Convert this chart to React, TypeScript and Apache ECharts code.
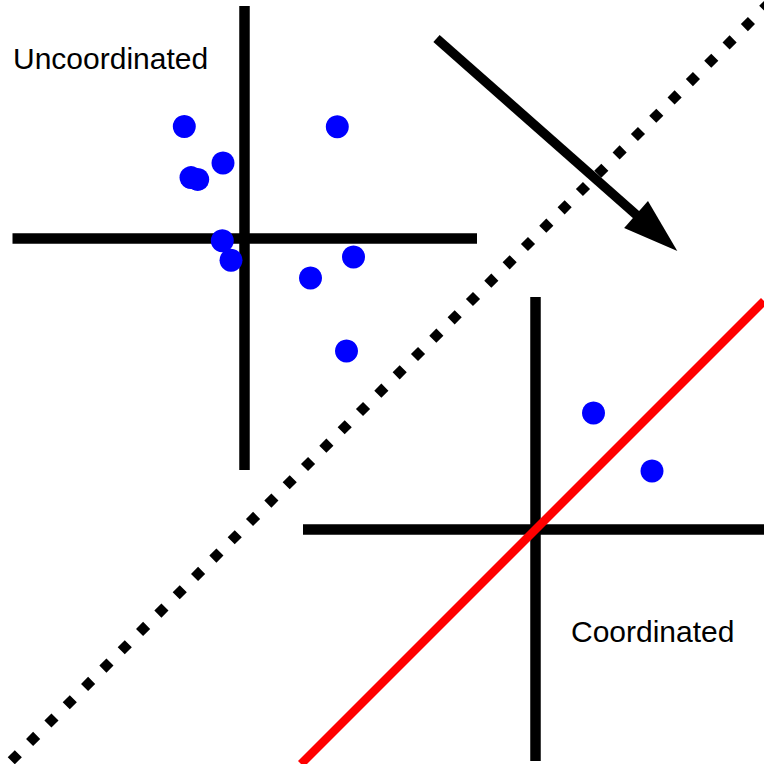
import React, { useEffect, useRef } from "react";
import * as echarts from "echarts";

// Canvas coordinate space (x to the right, y downward), 0..764
const X_RANGE = [0, 764];
const Y_RANGE = [0, 764];

// Blue observations
const dotX = [184.3, 337.3, 223, 191, 197.7, 222.3, 231, 353.5, 310.5, 346.5, 593.5, 652];
const dotY = [126.5, 126.8, 163, 177.6, 179.4, 240.8, 260.2, 257, 278, 351, 413, 471];

// Cross-hair axes: [x1, y1, x2, y2]
const crossSegments = [
  [12.5, 238, 477, 238],
  [244.5, 6, 244.5, 470],
  [303, 529, 764, 529],
  [535.5, 297, 535.5, 761],
];

// Diagonal reference lines
const dottedLine = [
  [0, 772],
  [772, 0],
];
const redLine = [
  [301, 764],
  [764, 301],
];

// Arrow: [startX, startY, tipX, tipY]
const arrowData = [[436.5, 38.5, 677.3, 251]];

// Labels
const labelTexts = ["Uncoordinated", "Coordinated"];

export default function App() {
  const ref = useRef<HTMLDivElement>(null);

  useEffect(() => {
    if (!ref.current) return;
    const chart = echarts.init(ref.current, undefined, { renderer: "svg" });

    const HEAD_LEN = 55;
    const HEAD_HALF = 18;
    const FONT = "'Liberation Sans', Arial, Helvetica, sans-serif";

    const option: any = {
      animation: false,
      grid: { left: 0, right: 0, top: 0, bottom: 0, containLabel: false },
      xAxis: { type: "value", min: X_RANGE[0], max: X_RANGE[1], show: false },
      yAxis: { type: "value", min: Y_RANGE[0], max: Y_RANGE[1], inverse: true, show: false },
      series: [
        {
          type: "lines",
          coordinateSystem: "cartesian2d",
          z: 2,
          symbol: "none",
          lineStyle: { color: "#000", width: 10.5, opacity: 1, curveness: 0, cap: "butt" },
          data: crossSegments.map((s) => ({ coords: [[s[0], s[1]], [s[2], s[3]]] })),
        },
        {
          type: "line",
          z: 3,
          symbol: "none",
          clip: true,
          data: dottedLine,
          lineStyle: { color: "#000", width: 10, type: [10, 15.92], dashOffset: 9.74, cap: "butt" },
        },
        {
          type: "line",
          z: 4,
          symbol: "none",
          clip: true,
          data: redLine,
          lineStyle: { color: "#ff0000", width: 8.5, cap: "butt" },
        },
        {
          type: "custom",
          z: 5,
          data: arrowData,
          encode: { x: [0, 2], y: [1, 3] },
          renderItem: (params: any, api: any) => {
            const s = api.coord([api.value(0), api.value(1)]);
            const t = api.coord([api.value(2), api.value(3)]);
            const dx = t[0] - s[0];
            const dy = t[1] - s[1];
            const len = Math.hypot(dx, dy);
            const ux = dx / len;
            const uy = dy / len;
            const px = -uy;
            const py = ux;
            const bx = t[0] - ux * HEAD_LEN;
            const by = t[1] - uy * HEAD_LEN;
            return {
              type: "group",
              children: [
                {
                  type: "line",
                  shape: { x1: s[0], y1: s[1], x2: bx + ux * 4, y2: by + uy * 4 },
                  style: { stroke: "#000", lineWidth: 9.5, lineCap: "butt" },
                },
                {
                  type: "polygon",
                  shape: {
                    points: [
                      [t[0], t[1]],
                      [bx + px * HEAD_HALF, by + py * HEAD_HALF],
                      [bx - px * HEAD_HALF, by - py * HEAD_HALF],
                    ],
                  },
                  style: { fill: "#000" },
                },
              ],
            };
          },
        },
        {
          type: "scatter",
          z: 6,
          symbol: "circle",
          symbolSize: 23,
          itemStyle: { color: "#0000ff", opacity: 1 },
          data: dotX.map((x, i) => [x, dotY[i]]),
        },
      ],
      graphic: [
        {
          type: "text",
          x: 13,
          y: 58,
          z: 10,
          style: {
            text: labelTexts[0],
            fontSize: 30,
            fontFamily: FONT,
            fill: "#000",
            verticalAlign: "middle",
            align: "left",
          },
        },
        {
          type: "text",
          x: 571,
          y: 631.3,
          z: 10,
          style: {
            text: labelTexts[1],
            fontSize: 30,
            fontFamily: FONT,
            fill: "#000",
            verticalAlign: "middle",
            align: "left",
          },
        },
      ],
    };

    chart.setOption(option);
    return () => chart.dispose();
  }, []);

  return (
    <div
      ref={ref}
      style={{ position: "absolute", left: 0, top: 0, width: 764, height: 764 }}
    />
  );
}
